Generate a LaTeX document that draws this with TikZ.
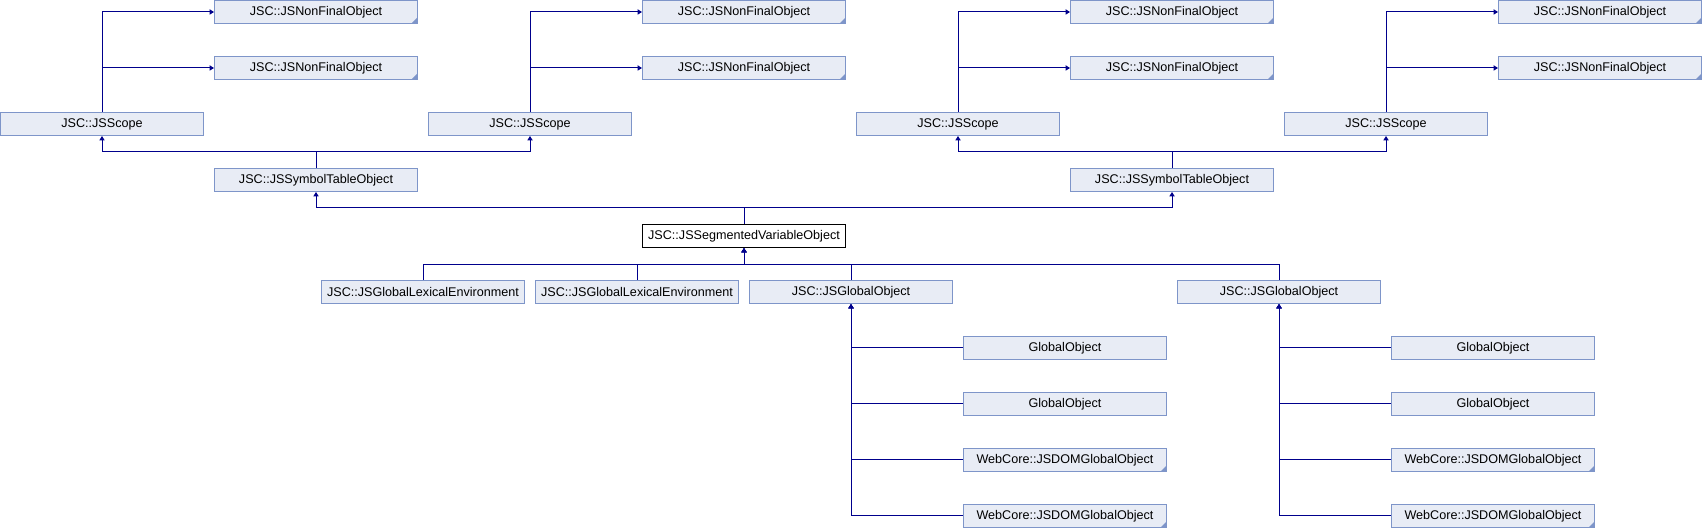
\documentclass[tikz,border=0pt]{standalone}
\usepackage{fontspec}
\setmainfont{Liberation Sans}
\usetikzlibrary{arrows.meta,positioning}
\definecolor{boxfill}{RGB}{232,236,245}
\definecolor{boxline}{RGB}{126,149,201}
\definecolor{linkblue}{RGB}{0,0,140}

\begin{document}
\begin{tikzpicture}[
    x=0.5pt, y=-0.5pt,   % 1 单位 = 1 像素, y 向下
    % 类框样式
    class box/.style={
        rectangle,               % 方形节点
        draw=boxline,            % 边框颜色
        fill=boxfill,            % 填充浅蓝
        line width=0.5pt,
        minimum width=101.5pt,   % 框宽
        minimum height=11.5pt,   % 框高
        inner sep=0pt,
        anchor=north west,
        font=\fontsize{6.3}{7.5}\selectfont
    },
    % 还有更多子类的框 (右下角小三角)
    more box/.style={
        class box,
        path picture={
            \fill[boxline] (path picture bounding box.south east)
                -- ++(-3pt,0pt) -- ++(3pt,3pt) -- cycle;
        }
    },
    % 当前类的框
    main box/.style={
        class box,
        draw=black,
        fill=white
    },
    % 继承连线样式
    link/.style={
        draw=linkblue,
        line width=0.5pt,
        >={Triangle[length=2.2pt,width=2.6pt]},
        ->
    }
]
\useasboundingbox (0,0) rectangle (1702,528);

% 顶部: JSNonFinalObject 和 JSScope
\foreach \i/\x in {a/214, b/642, c/1070, d/1498} {
    \node[more box] (nf\i1) at (\x,0) {JSC::JSNonFinalObject};
    \node[more box] (nf\i2) at (\x,56) {JSC::JSNonFinalObject};
    \node[class box] (scope\i) at ({\x-214},112) {JSC::JSScope};
    \draw[link] (scope\i.north) |- (nf\i1.west);
    \draw[link] (scope\i.north) |- (nf\i2.west);
}

% JSSymbolTableObject
\node[class box] (symL) at (214,168) {JSC::JSSymbolTableObject};
\node[class box] (symR) at (1070,168) {JSC::JSSymbolTableObject};
\draw[link] (symL.north) -- ++(0,-16) -| (scopea.south);
\draw[link] (symL.north) -- ++(0,-16) -| (scopeb.south);
\draw[link] (symR.north) -- ++(0,-16) -| (scopec.south);
\draw[link] (symR.north) -- ++(0,-16) -| (scoped.south);

% 当前类
\node[main box] (seg) at (642,224) {JSC::JSSegmentedVariableObject};
\draw[link] (seg.north) -- ++(0,-16) -| (symL.south);
\draw[link] (seg.north) -- ++(0,-16) -| (symR.south);

% 子类
\node[class box] (lexA) at (321,280) {JSC::JSGlobalLexicalEnvironment};
\node[class box] (lexB) at (535,280) {JSC::JSGlobalLexicalEnvironment};
\node[class box] (globA) at (749,280) {JSC::JSGlobalObject};
\node[class box] (globB) at (1177,280) {JSC::JSGlobalObject};
\foreach \n in {lexA, lexB, globA, globB}
    \draw[link, <-] (seg.south) -- ++(0,17) -| (\n.north);

% JSGlobalObject 的子类
\foreach \g/\x in {A/963, B/1391} {
    \node[class box] (go\g1) at (\x,336) {GlobalObject};
    \node[class box] (go\g2) at (\x,392) {GlobalObject};
    \node[more box] (go\g3) at (\x,448) {WebCore::JSDOMGlobalObject};
    \node[more box] (go\g4) at (\x,504) {WebCore::JSDOMGlobalObject};
    \foreach \k in {1,2,3,4}
        \draw[link, <-] (glob\g.south) |- (go\g\k.west);
}

\end{tikzpicture}
\end{document}
